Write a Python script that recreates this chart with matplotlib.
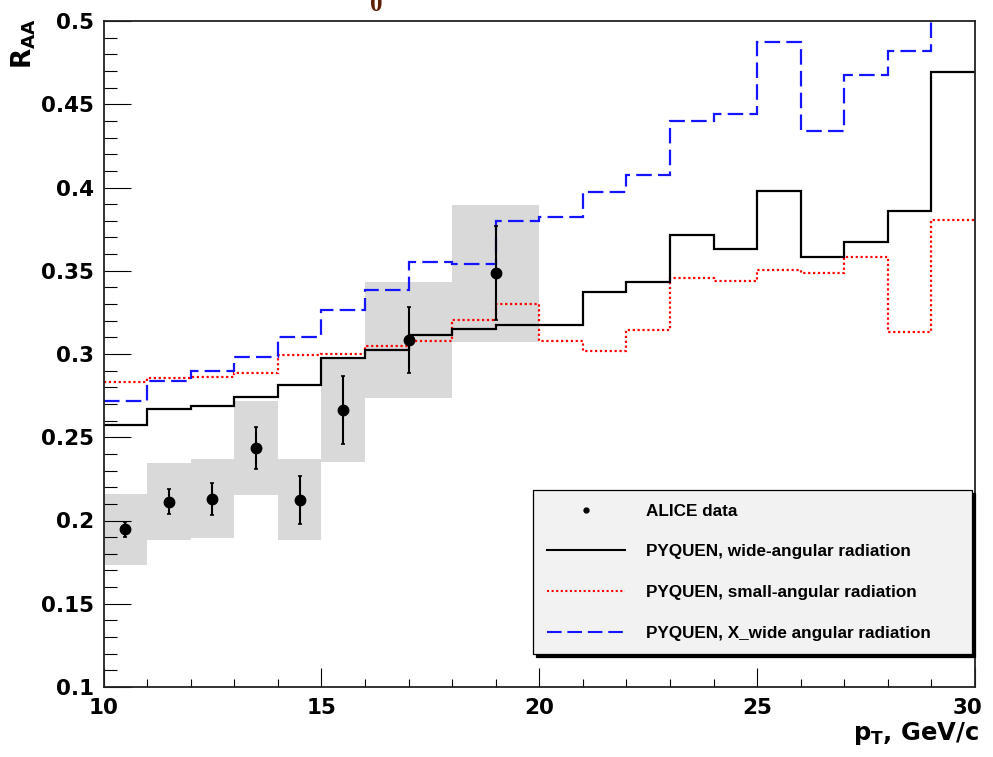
import matplotlib
matplotlib.use("Agg")
import matplotlib.pyplot as plt
from matplotlib.lines import Line2D
from matplotlib.ticker import MultipleLocator, FixedLocator
from matplotlib.transforms import ScaledTranslation

# ---------------- data ----------------
bin_edges = list(range(10, 31))
wide_angular = [0.2575, 0.2667, 0.2687, 0.2744, 0.2816, 0.2974, 0.3026, 0.3114, 0.3150, 0.3176,
                0.3176, 0.3375, 0.3435, 0.3713, 0.3633, 0.3980, 0.3585, 0.3671, 0.3858, 0.4695]
small_angular = [0.2834, 0.2854, 0.2864, 0.2886, 0.2996, 0.3000, 0.3048, 0.3078, 0.3204, 0.3299,
                 0.3080, 0.3020, 0.3144, 0.3457, 0.3439, 0.3503, 0.3487, 0.3583, 0.3130, 0.3802]
xwide_angular = [0.2720, 0.2836, 0.2896, 0.2984, 0.3100, 0.3265, 0.3383, 0.3551, 0.3543, 0.3796,
                 0.3822, 0.3970, 0.4078, 0.4399, 0.4441, 0.4876, 0.4337, 0.4677, 0.4820, 0.5300]

alice_pt = [10.5, 11.5, 12.5, 13.5, 14.5, 15.5, 17.0, 19.0]
alice_raa = [0.1946, 0.2114, 0.2130, 0.2437, 0.2124, 0.2665, 0.3084, 0.3485]
alice_stat = [0.0046, 0.0076, 0.0096, 0.0127, 0.0145, 0.0203, 0.0199, 0.0282]
alice_sys = [0.0212, 0.0234, 0.0237, 0.0282, 0.0243, 0.0315, 0.0349, 0.0412]
alice_binw = [1, 1, 1, 1, 1, 1, 2, 2]

labels = ["ALICE data",
          "PYQUEN, wide-angular radiation",
          "PYQUEN, small-angular radiation",
          "PYQUEN, X_wide angular radiation"]

x_range = (10, 30)
y_range = (0.1, 0.5)
x_major = [10, 15, 20, 25, 30]
y_major = [0.1, 0.15, 0.2, 0.25, 0.3, 0.35, 0.4, 0.45, 0.5]

# ---------------- style ----------------
plt.rcParams['font.family'] = ['DejaVu Sans']
plt.rcParams['mathtext.fontset'] = 'dejavusans'
plt.rcParams['mathtext.default'] = 'bf'

W, H = 993, 757
fig = plt.figure(figsize=(W / 100, H / 100), dpi=100)
L, R, T, B = 103.5, 975, 21, 687
ax = fig.add_axes([L / W, 1 - B / H, (R - L) / W, (B - T) / H])

# systematic boxes
ax.bar(alice_pt, [2 * s for s in alice_sys], width=alice_binw,
       bottom=[v - s for v, s in zip(alice_raa, alice_sys)],
       color='#d9d9d9', edgecolor='none', zorder=1)

# model histograms
ax.stairs(small_angular, bin_edges, baseline=None, color='#ff0000',
          linewidth=1.6, linestyle=(0, (1, 1.2)), zorder=3)
ax.stairs(xwide_angular, bin_edges, baseline=None, color='#1414ff',
          linewidth=1.6, linestyle=(0, (7, 2.8)), zorder=3)
ax.stairs(wide_angular, bin_edges, baseline=None, color='black',
          linewidth=1.6, zorder=4)

# data points
ax.errorbar(alice_pt, alice_raa, yerr=alice_stat, fmt='o', color='black',
            ms=7.5, elinewidth=1.5, capsize=1.6, capthick=1.2, zorder=5)

ax.set_xlim(*x_range)
ax.set_ylim(*y_range)

ax.xaxis.set_major_locator(FixedLocator(x_major))
ax.xaxis.set_minor_locator(MultipleLocator(1))
ax.yaxis.set_major_locator(FixedLocator(y_major))
ax.yaxis.set_minor_locator(MultipleLocator(0.01))
ax.set_yticklabels([f"{v:g}" for v in y_major])
ax.set_xticklabels([str(v) for v in x_major])

ax.tick_params(axis='y', which='major', direction='in', length=19.5, width=0.8,
               labelsize=15.5, pad=7, right=False)
ax.tick_params(axis='y', which='minor', direction='in', length=9.5, width=0.8, right=False)
ax.tick_params(axis='x', which='major', direction='in', length=13.5, width=0.8,
               labelsize=15.5, pad=8, top=False)
ax.tick_params(axis='x', which='minor', direction='in', length=6, width=0.8, top=False)
for lab in ax.get_xticklabels() + ax.get_yticklabels():
    lab.set_fontweight('bold')
# ROOT pulls the last x label slightly inside the frame
last = ax.get_xticklabels()[-1]
last.set_transform(last.get_transform() + ScaledTranslation(-7 / 100, 0, fig.dpi_scale_trans))

for sp in ax.spines.values():
    sp.set_linewidth(1.3)
    sp.set_color('#222222')
    sp.set_zorder(6)

# legend
handles = [
    Line2D([], [], marker='o', linestyle='none', color='black', ms=3.5),
    Line2D([], [], color='black', linewidth=1.5),
    Line2D([], [], color='#ff0000', linewidth=1.5, linestyle=(0, (1, 1.2))),
    Line2D([], [], color='#1414ff', linewidth=1.5, linestyle=(0, (7, 2.8))),
]
lx0 = (533 - L) / (R - L)
lx1 = (972 - L) / (R - L)
ly0 = (B - 653) / (B - T)
ly1 = (B - 490) / (B - T)
leg = ax.legend(handles, labels, loc='upper left',
                bbox_to_anchor=(lx0, ly0, lx1 - lx0, ly1 - ly0),
                mode='expand', fancybox=False, framealpha=1,
                facecolor='#f2f2f2', edgecolor='black',
                shadow={'color': 'black', 'alpha': 1},
                prop={'family': ['Liberation Sans', 'DejaVu Sans'],
                      'weight': 'bold', 'size': 12.3},
                handlelength=4.6, handletextpad=1.2, labelspacing=1.5,
                borderpad=0.8, borderaxespad=0)
leg.get_frame().set_linewidth(0.9)
leg.set_zorder(7)

# axis titles
fig.text(24 / W, 1 - 18 / H, 'R$_{AA}$', rotation=90, ha='center', va='top',
         fontsize=19, fontweight='bold')
fig.text(979 / W, 1 - 740 / H, 'p$_{T}$, GeV/c', ha='right', va='baseline',
         fontsize=17.5, fontweight='bold')

# partially cut title remnant
fig.text(376 / W, 1 - 11 / H, '0', ha='center', va='baseline', fontsize=18,
         fontweight='bold', family='Liberation Serif', color='#5c1f06')

fig.savefig('out.png', dpi=100)
